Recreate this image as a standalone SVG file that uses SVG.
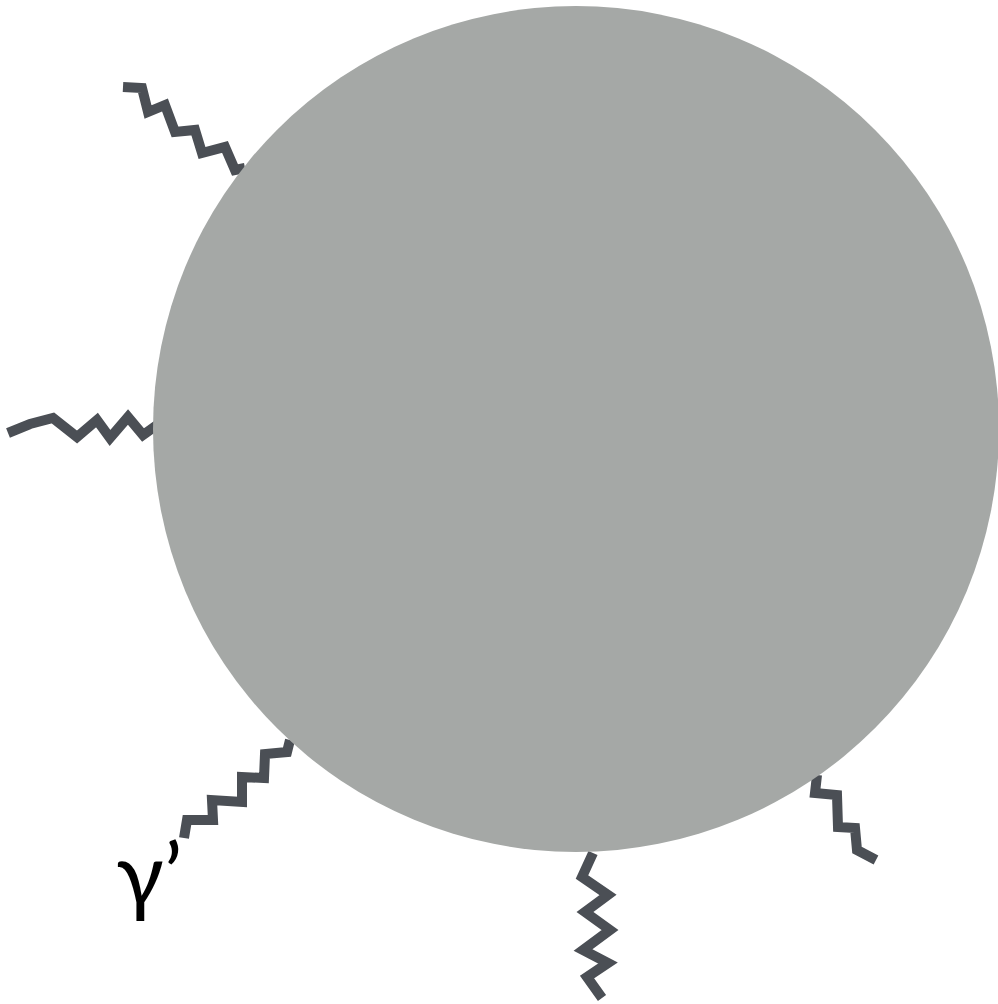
<svg xmlns="http://www.w3.org/2000/svg" width="998" height="1004" viewBox="0 0 998 1004">
<style>
.wave{fill:none;stroke:#4b4f55;stroke-width:10;stroke-linejoin:miter;stroke-linecap:butt}
.lbl{font-family:Lato,"Liberation Sans",sans-serif;font-size:88px;fill:#000}
</style>
<rect width="998" height="1004" fill="#fff"/>
<g id="connectors">
<polyline class="wave" points="123,87 142,88 148,112 165,105 175,132 195,130 202,153 225,147 235,170 245,168"/>
<polyline class="wave" points="8,433 30,424 53,418 77,437 97,420 110,438 128,417 143,435 157,425"/>
<polyline class="wave" points="290,740 287,752 265,754 264,778 242,777 242,802 212,800 213,820 187,820 184,838"/>
<polyline class="wave" points="593,853 582,877 608,895 585,912 610,930 583,950 608,963 587,977 602,998"/>
<polyline class="wave" points="817,775 815,793 837,795 838,827 855,828 857,850 876,860"/>
</g>
<g id="blob">
<circle cx="576" cy="429" r="423" fill="#a5a8a6"/>
</g>
<g id="label">
<text class="lbl" x="116" y="906">γ’</text>
</g>
</svg>
